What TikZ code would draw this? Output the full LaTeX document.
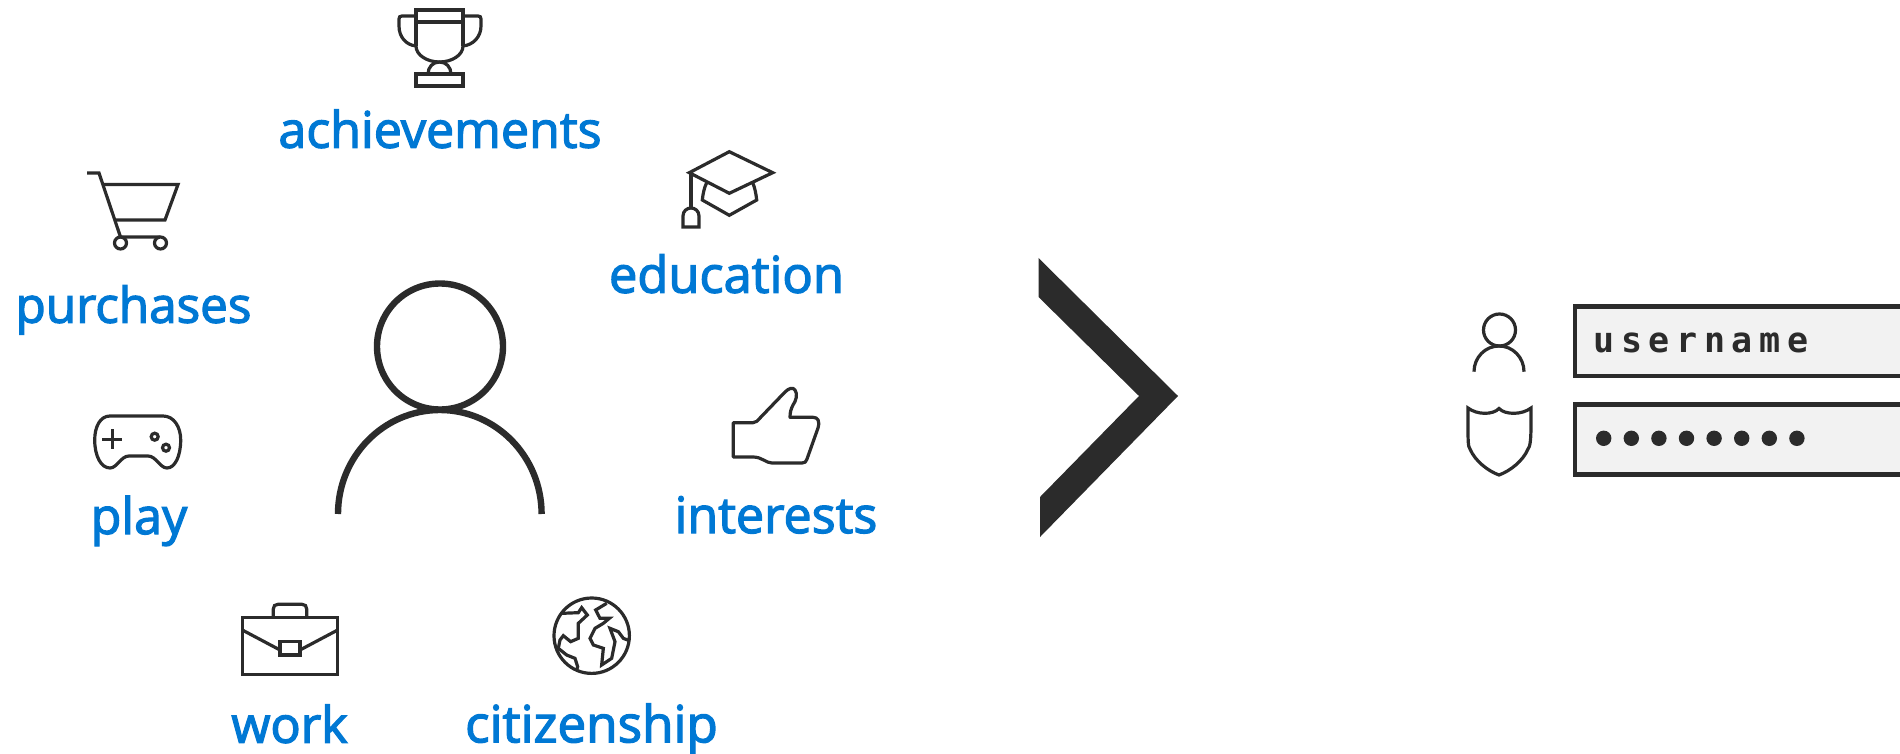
\documentclass[tikz,border=0pt]{standalone}
\usepackage{fontspec}
\setmainfont{Open Sans}[FakeBold=2.5]
\newfontfamily\loginfont{DejaVu Sans Mono Bold}[LetterSpace=19]
\definecolor{ink}{HTML}{2B2B2B}
\definecolor{msblue}{HTML}{0078D4}
\definecolor{field}{HTML}{F2F2F2}
\tikzset{
 x=0.5pt,y=-0.5pt,
 icon/.style={draw=ink,line width=1.6pt,line join=miter},
 label/.style={text=msblue,anchor=base,inner sep=0pt,font=\fontsize{#1}{30pt}\selectfont},
 label/.default=25.1pt,
 bigline/.style={draw=ink,line width=3.2pt},
 inputbox/.style={draw=ink,line width=2.4pt,fill=field},
 dot/.style={fill=ink,draw=none}
}
\begin{document}
\begin{tikzpicture}
\useasboundingbox (0,0) rectangle (1900,754);
\clip (0,0) rectangle (1900,754);
% labels
\node[label] (achievements) at (440,147.7) {achievements};
\node[label=24.7pt] (purchases) at (133.5,322.7) {purchases};
\node[label=25.3pt] (education) at (726.5,292.7) {education};
\node[label] (interests) at (776,533) {interests};
\node[label] (play) at (139,534) {play};
\node[label] (work) at (289.5,742.7) {work};
\node[label=25.6pt] (citizenship) at (591.5,742.3) {citizenship};
% central person
\draw[bigline] (440,346.5) circle[radius=63];
\draw[bigline] (338,514) arc[start angle=180,end angle=360,x radius=101.8,y radius=104];
% chevron
\fill[ink] (1038.5,258) -- (1178,396) -- (1040,537) -- (1040,497) -- (1139,396) -- (1038.5,297) -- cycle;
% trophy
\draw[icon] (416,46) -- (416,10) -- (463,10) -- (463,46);
\draw[icon] (416,22) -- (463,22);
\draw[icon] (416,46) .. controls (416,55) and (427,62) .. (439.5,62) .. controls (452,62) and (463,55) .. (463,46);
\draw[icon] (416,16) -- (402,16) .. controls (400,16) and (399,17) .. (399,19) -- (399,26) .. controls (399,37) and (406,45) .. (416,46);
\draw[icon] (463,16) -- (478,16) .. controls (480,16) and (481,17) .. (481,19) -- (481,26) .. controls (481,37) and (473,45) .. (463,46);
\draw[icon] (428,74) .. controls (428,67) and (433,62) .. (439.5,62) .. controls (446,62) and (451,67) .. (451,74);
\draw[icon] (416,74) rectangle (463,86);
% cart
\draw[icon] (87,173) -- (99,173) -- (120.5,237) -- (160,237);
\draw[icon] (102.5,184.5) -- (178,184.5) -- (165,220) -- (114.5,220);
\draw[icon] (120.5,243) circle[radius=6];
\draw[icon] (160.5,243) circle[radius=6];
% mortarboard
\draw[icon] (729.3,151.7) -- (772.7,172.7) -- (729.3,193.3) -- (689.3,172.7) -- cycle;
\draw[icon] (706.7,182.7) .. controls (704,188) and (703,194) .. (702.3,200) -- (729.3,215.3) -- (756.7,200) .. controls (756,194) and (755,188) .. (752.7,182.7);
\draw[icon] (691,172.7) -- (691,208);
\draw[icon] (683,227) -- (683,216) .. controls (683,211) and (687,208) .. (691,208) .. controls (695,208) and (699,211) .. (699,216) -- (699,227) -- cycle;
% thumb
\draw[icon,line join=round] (733.3,422.7) -- (753,422.7) .. controls (756,422.7) and (758,420.5) .. (760,418) -- (785,392)
  .. controls (789,388) and (793,387) .. (795,390) .. controls (798,394) and (796,401) .. (793,405) .. controls (791,409) and (790,412) .. (790,417.3)
  -- (813,417.3) .. controls (818,417.3) and (820,421) .. (818,428) -- (807,459) .. controls (806,462) and (805,463) .. (802,463)
  -- (772,463) .. controls (766,463) and (762,457) .. (753,457) -- (733.3,457) -- cycle;
% gamepad
\draw[icon] (110,416) -- (163,416) .. controls (174,416) and (180.7,427) .. (180.7,440)
  .. controls (180.7,456) and (175,468) .. (167,468) .. controls (160,468) and (156,456) .. (148,456)
  -- (129,456) .. controls (121,456) and (117,468) .. (110,468) .. controls (101,468) and (94.7,456) .. (94.7,440)
  .. controls (94.7,427) and (100,416) .. (110,416) -- cycle;
\draw[icon] (102.3,439.3) -- (122.3,439.3) (112.3,429.3) -- (112.3,449.3);
\draw[icon] (154.7,436.7) circle[radius=3.5];
\draw[icon] (166,447.7) circle[radius=3.5];
% briefcase
\draw[icon] (242.3,617.3) rectangle (337.7,674.3);
\draw[icon] (273.3,617.3) -- (273.3,609) .. controls (273.3,606) and (275,604.3) .. (278,604.3) -- (302,604.3) .. controls (305,604.3) and (306.7,606) .. (306.7,609) -- (306.7,617.3);
\draw[icon] (280,641.7) rectangle (300,655);
\draw[icon] (242.3,630) -- (280,650);
\draw[icon] (300,650) -- (337.7,630);
% globe
\draw[icon] (591.7,635.7) circle[radius=37.7];
\begin{scope}[shift={(450,570)},xscale=0.33333,yscale=0.33333]
\draw[icon] (335,130) -- (385,128) -- (395,113) -- (412,135) -- (385,160) -- (385,205) -- (362,215) -- (340,197) -- (330,210) -- (325,235) -- (350,255) -- (375,265) -- (383,290) -- (380,300);
\draw[icon] (470,100) -- (437,120) -- (450,145) -- (478,145) -- (460,160) -- (435,175) -- (420,205) -- (430,225) -- (460,235) -- (455,285) -- (485,265) -- (495,215) -- (480,175) -- (505,185) -- (520,205) -- (538,212);
\end{scope}
% login person
\draw[icon] (1499.5,330) circle[radius=16];
\draw[icon] (1474,371.7) arc[start angle=180,end angle=360,x radius=25,y radius=25.7];
% shield
\draw[icon] (1468,408) .. controls (1477,415) and (1493,415) .. (1499,408.5) .. controls (1505,415) and (1522,415) .. (1531,408)
  -- (1531,425) .. controls (1531,440) and (1530,447) .. (1528,449) .. controls (1523,461) and (1510,471) .. (1499,475)
  .. controls (1488,471) and (1475,461) .. (1470,449) .. controls (1468,447) and (1468,440) .. (1468,425) -- cycle;
% input fields
\draw[inputbox] (1910,306.5) -- (1575,306.5) -- (1575,376) -- (1910,376);
\draw[inputbox] (1910,404.7) -- (1575,404.7) -- (1575,474.7) -- (1910,474.7);
\node[anchor=base west,inner sep=0pt,text=ink,font=\loginfont\fontsize{17.5pt}{20pt}\selectfont] (username) at (1593,352.5) {username};
\foreach \i in {0,...,7}
  \fill[dot] ({1603.7+27.6*\i},438.3) circle[radius=7.7];
\end{tikzpicture}
\end{document}
